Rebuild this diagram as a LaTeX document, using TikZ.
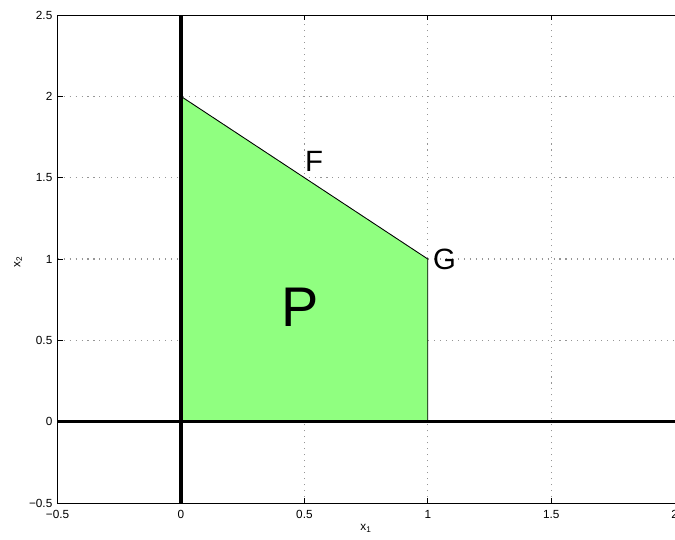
\documentclass[tikz,border=0pt]{standalone}
\usepackage{fontspec}
\setmainfont{Liberation Sans}
\definecolor{regiongreen}{RGB}{144,255,128}
\definecolor{gridgray}{RGB}{150,150,150}
\tikzset{
  ticklabel/.style={inner sep=0pt,font=\fontsize{6.7}{8}\selectfont},
  gridline/.style={gridgray,line width=0.6pt,dash pattern=on 0.6pt off 2.8pt},
  pointlabel/.style={font=\fontsize{16.7}{20}\selectfont},
}

\begin{document}
\begin{tikzpicture}[x=4.936cm,y=3.2533cm]
\useasboundingbox (-0.7334,-0.7273) rectangle (2.0016,2.5924);
% grid
\draw[gridline] (0.500,-0.500) -- (0.500,2.500);
\draw[gridline] (1.000,-0.500) -- (1.000,2.500);
\draw[gridline] (1.500,-0.500) -- (1.500,2.500);
\draw[gridline] (-0.500,0.500) -- (2.000,0.500);
\draw[gridline] (-0.500,1.000) -- (2.000,1.000);
\draw[gridline] (-0.500,1.500) -- (2.000,1.500);
\draw[gridline] (-0.500,2.000) -- (2.000,2.000);
% feasible region
\draw[fill=regiongreen,line width=0.5pt] (0,0) -- (0,2) -- (1,1) -- (1,0) -- cycle;
% axes lines
\draw[line width=2pt] (-0.500,0) -- (2.000,0);
\draw[line width=2pt] (0,-0.500) -- (0,2.500);
% frame and ticks
\draw[line width=0.5pt] (2.000,2.500) -- (-0.500,2.500) -- (-0.500,-0.500) -- (2.000,-0.500);
\foreach \t in {0,0.5,1,1.5} {
  \draw[line width=0.5pt] (\t,-0.500) -- (\t,-0.470);
  \draw[line width=0.5pt] (\t,2.500) -- (\t,2.470);
}
\foreach \t in {-0.5,0,0.5,1,1.5,2,2.5} {
  \draw[line width=0.5pt] (-0.500,\t) -- (-0.480,\t);
}
% tick labels
\node[ticklabel,anchor=east] (ym05) at (-0.520,-0.500) {−0.5};
\node[ticklabel,anchor=east] (y0) at (-0.520,0.000) {0};
\node[ticklabel,anchor=east] (y05) at (-0.520,0.500) {0.5};
\node[ticklabel,anchor=east] (y1) at (-0.520,1.000) {1};
\node[ticklabel,anchor=east] (y15) at (-0.520,1.500) {1.5};
\node[ticklabel,anchor=east] (y2) at (-0.520,2.000) {2};
\node[ticklabel,anchor=east] (y25) at (-0.520,2.500) {2.5};
\node[ticklabel,anchor=north] (xm05) at (-0.500,-0.545) {−0.5};
\node[ticklabel,anchor=north] (x0) at (0.000,-0.545) {0};
\node[ticklabel,anchor=north] (x05) at (0.500,-0.545) {0.5};
\node[ticklabel,anchor=north] (x1) at (1.000,-0.545) {1};
\node[ticklabel,anchor=north] (x15) at (1.500,-0.545) {1.5};
\node[ticklabel,anchor=north] (x2) at (2.000,-0.545) {2};
% axis names
\node[ticklabel] (xname) at (0.750,-0.658) {x\textsubscript{1}};
\node[ticklabel,rotate=90] (yname) at (-0.660,0.985) {x\textsubscript{2}};
% labels
\node[pointlabel] (F) at (0.539,1.603) {F};
\node[pointlabel] (G) at (1.068,1.000) {G};
\node[font=\fontsize{31.8}{36}\selectfont] (P) at (0.482,0.705) {P};
\end{tikzpicture}
\end{document}
